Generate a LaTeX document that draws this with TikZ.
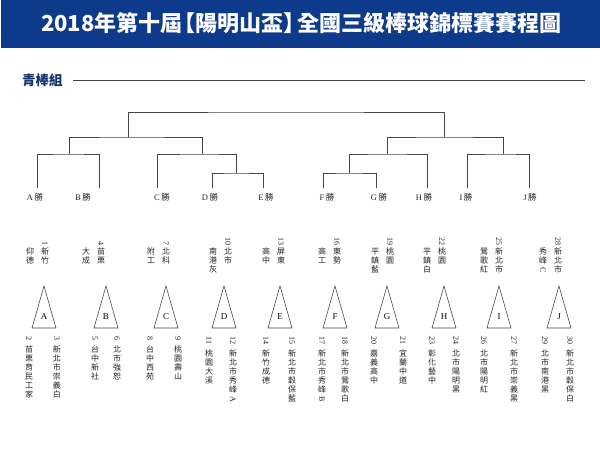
\documentclass[tikz,border=0pt]{standalone}
\usepackage{fontspec}
\setmainfont{Liberation Serif}
\newfontfamily\cjk{Noto Sans CJK TC}
\usepackage{graphicx}
\usetikzlibrary{positioning, calc}

\definecolor{barblue}{RGB}{14,58,140}
\definecolor{headblue}{RGB}{24,50,108}
\definecolor{inkgray}{RGB}{35,35,35}
\definecolor{linegray}{RGB}{70,70,70}

% vertical column of characters, one per line
\makeatletter
\newcommand{\vcjk}[1]{\expandafter\vcjk@stack\expandafter{#1}}
\newcommand{\vcjk@stack}[1]{\vbox{\baselineskip=9pt\lineskiplimit=-20pt
  \@tfor\vcjk@c:=#1\do{\hbox to 10pt{\hss\vcjk@c\hss}}}}
\makeatother
\newcommand{\rlat}[1]{\rotatebox[origin=c]{-90}{\rmfamily #1}}
\newcommand{\win}[1]{#1\hspace{1.5pt}{\cjk 勝}}

\begin{document}
\begin{tikzpicture}[x=1pt, y=-1pt,
    % Style for the bracket lines
    bracket/.style={draw=linegray, line width=0.8pt},
    tri/.style={draw=linegray, line width=0.6pt},
    winlabel/.style={font=\fontsize{8.5}{10}\selectfont, text=inkgray, inner sep=1pt},
    num/.style={font=\fontsize{8}{9}\selectfont, text=inkgray, inner sep=0pt, rotate=-90},
    vcol/.style={font=\cjk\fontsize{8}{9}\selectfont, text=inkgray, inner sep=0pt, anchor=north},
    grp/.style={font=\fontsize{9}{10}\selectfont, text=black, inner sep=0pt}
]

    \useasboundingbox (0,0) rectangle (600,450);

    % --- Settings ---
    \def\leafy{188}
    \def\apexy{286}
    \def\basey{328}
    \def\halfbase{12}
    \def\colgap{15}

    % --- Title Bar ---
    \fill[barblue] (1,0) rectangle (600,48);
    \node[font=\cjk\bfseries\fontsize{22}{24}\selectfont, text=white] (title) at (301,23)
        {2018年第十屆\kern-0.4em【陽明山盃】\kern-0.4em全國三級棒球錦標賽賽程圖};

    % --- Group Heading ---
    \node[font=\cjk\bfseries\fontsize{13.5}{16}\selectfont, text=headblue, anchor=west, inner sep=0pt]
        (group) at (22,80) {青棒組};
    \coordinate (ruleend) at (585,80);
    \draw[linegray, line width=0.7pt] ($(group.east)+(10,0)$) -- (ruleend);

    % --- Leaves: winner labels ---
    \foreach \g/\lx/\tx in {A/37/35, B/99/83, C/157/162, D/212/210, E/263/266,
                            F/323/327, G/376/379, H/427/424, I/467/466, J/529/530} {
        \coordinate (\g) at (\lx,\leafy);
        \node[winlabel] (win\g) at (\tx,197) {\win{\g}};
    }

    % --- Bracket ---
    \foreach \lf/\rt/\jx/\jy in {A/B/69/154, D/E/236/173, C/DE/202/154, AB/CDE/128/137,
                                 F/G/349/173, FG/H/387/154, I/J/503/154, FGH/IJ/444/137,
                                 ABCDE/FGHIJ/286/112} {
        \coordinate (\lf\rt) at (\jx,\jy);
        \draw[bracket] (\lf) |- (\lf\rt) -| (\rt);
    }

    % --- Group triangles ---
    \foreach \g/\x in {A/44, B/106, C/166, D/224, E/280, F/335, G/387, H/444, I/499, J/559} {
        \draw[tri] (\x,\apexy) -- (\x+\halfbase,\basey) -- (\x-\halfbase,\basey) -- cycle;
        \node[grp] (grp\g) at (\x,317) {\g};
    }

    % --- Teams above the triangles ---
    \foreach \n/\x/\ra/\rb in {1/45/{新竹}/{仰德}, 4/101/{苗栗}/{大成}, 7/166/{北科}/{附工},
                               10/228/{北市}/{南港灰}, 13/281/{屏東}/{高中}, 16/337/{東勢}/{高工},
                               19/390/{桃園}/{平鎮藍}, 22/442/{桃園}/{平鎮白},
                               25/499/{新北市}/{鶯歌紅}, 28/558/{新北市}/{秀峰{\rlat{C}}}} {
        \node[num, anchor=east] (n\n) at (\x,246) {\n};
        \node[vcol] (t\n) at (\x,248) {\vcjk{\ra}};
        \node[vcol] (t\n l) at (\x-\colgap,248) {\vcjk{\rb}};
    }

    % --- Teams below the triangles ---
    \foreach \n/\x/\tm in {2/29/{苗栗育民工家}, 3/57/{新北市崇義白}, 5/95/{台中新社},
                           6/117/{北市強恕}, 8/150/{台中西苑}, 9/178/{桃園壽山},
                           11/209/{桃園大溪}, 12/233/{新北市秀峰{\rlat{A}}}, 14/266/{新竹成德},
                           15/292/{新北市穀保藍}, 17/322/{新北市秀峰{\rlat{B}}}, 18/345/{新北市鶯歌白},
                           20/374/{嘉義高中}, 21/403/{宜蘭中道}, 23/432/{彰化藝中},
                           24/456/{北市陽明黑}, 26/484/{北市陽明紅}, 27/514/{新北市崇義黑},
                           29/545/{北市南港黑}, 30/570/{新北市穀保白}} {
        \node[num, anchor=west] (n\n) at (\x,336.5) {\n};
        \node[vcol] (t\n) at ($(n\n.east)+(0,5)$) {\vcjk{\tm}};
    }

\end{tikzpicture}
\end{document}
